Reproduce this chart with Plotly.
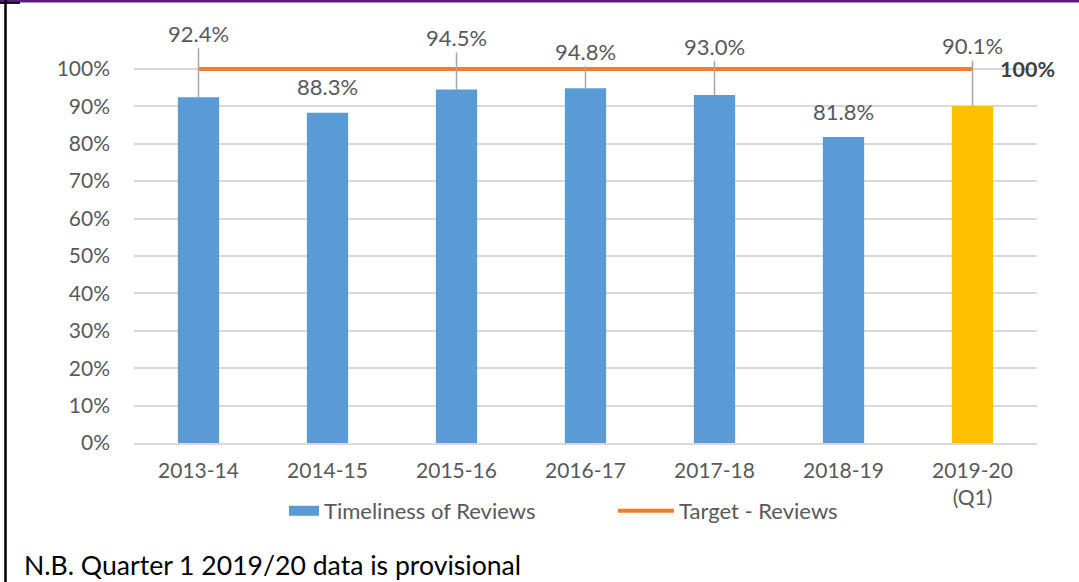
import plotly.graph_objects as go

categories = ["2013-14", "2014-15", "2015-16", "2016-17", "2017-18", "2018-19", "2019-20<br>(Q1)"]
timeliness = [0.924, 0.883, 0.945, 0.948, 0.930, 0.818, 0.901]
target = [1.0, 1.0, 1.0, 1.0, 1.0, 1.0, 1.0]
bar_colors = ["#5B9BD5", "#5B9BD5", "#5B9BD5", "#5B9BD5", "#5B9BD5", "#5B9BD5", "#FFC000"]
y_tick_vals = [0, 0.1, 0.2, 0.3, 0.4, 0.5, 0.6, 0.7, 0.8, 0.9, 1.0]
y_tick_text = ["0%", "10%", "20%", "30%", "40%", "50%", "60%", "70%", "80%", "90%", "100%"]

# label offsets above bar tops (pixels) and whether a leader line is drawn
label_offsets = [-64, -26, -52, -37, -49, -25, -60]
leader = [True, False, True, True, True, False, True]

FONT = "Lato"
GREY = "#595959"
PW, PH = 903, 374 * 1.12

fig = go.Figure()
fig.add_trace(go.Bar(
    x=categories, y=timeliness, marker=dict(color=bar_colors, line=dict(width=0)),
    width=0.32, name="Timeliness of Reviews", showlegend=False,
))
# legend proxy for bars (wide rectangle)
fig.add_trace(go.Scatter(
    x=[None], y=[None], mode="lines", line=dict(color="#5B9BD5", width=13),
    name="Timeliness of Reviews", legend="legend",
))
fig.add_trace(go.Scatter(
    x=categories, y=target, mode="lines", line=dict(color="#ED7D31", width=4),
    name="Target - Reviews", legend="legend2",
))

for c, v, off, ld in zip(categories, timeliness, label_offsets, leader):
    fig.add_annotation(
        x=c, y=v, text=f"{v*100:.1f}%", showarrow=ld, arrowhead=0, arrowwidth=1.5,
        arrowcolor="#A6A6A6", ax=0, ay=off, standoff=0,
        yshift=0 if ld else -off, font=dict(family=FONT, size=22, color=GREY),
    )

fig.add_annotation(
    x=categories[-1], y=target[-1], text="<b>100%</b>", showarrow=False,
    xanchor="left", xshift=25, font=dict(family=FONT, size=21.5, color="#404040"),
)

fig.add_annotation(
    xref="paper", yref="paper", x=(22 - 134) / PW, y=-(565 - 443) / PH, xanchor="left", yanchor="middle",
    text="N.B. Quarter 1 2019/20 data is provisional", showarrow=False,
    font=dict(family=FONT, size=26.6, color="#000000"),
)

# frame lines
fig.add_shape(type="line", xref="paper", yref="paper", x0=-140 / PW, x1=1.2, y0=(443 - 1.5) / PH, y1=(443 - 1.5) / PH,
              line=dict(color="#5B1F7A", width=2.5))
fig.add_shape(type="line", xref="paper", yref="paper", x0=-128.5 / PW, x1=-128.5 / PW, y0=-0.5, y1=1.1,
              line=dict(color="#000000", width=2.5))
fig.add_shape(type="line", xref="paper", yref="paper", x0=-140 / PW, x1=-114 / PW, y0=(443 - 3) / PH, y1=(443 - 3) / PH,
              line=dict(color="#000000", width=2))

fig.update_layout(
    width=1079, height=582,
    margin=dict(l=134, r=42, t=24, b=139, autoexpand=False),
    paper_bgcolor="white", plot_bgcolor="white",
    font=dict(family=FONT, size=21, color=GREY),
    xaxis=dict(type="category", range=[-0.5, 6.5], showgrid=False, showline=True, linecolor="#D9D9D9",
               linewidth=1.5, ticks="", tickfont=dict(family=FONT, size=21, color=GREY), ticklabelstandoff=8),
    yaxis=dict(range=[0, 1.12], tickvals=y_tick_vals, ticktext=y_tick_text, showgrid=True,
               gridcolor="#D9D9D9", gridwidth=1.5, zeroline=False, ticks="",
               tickfont=dict(family=FONT, size=21, color=GREY), ticklabelstandoff=23),
    legend=dict(orientation="h", xref="container", yref="container", x=284 / 1079, y=1 - 511 / 582,
                yanchor="middle", xanchor="left", itemwidth=30, font=dict(family=FONT, size=22, color=GREY),
                bgcolor="rgba(0,0,0,0)"),
    legend2=dict(orientation="h", xref="container", yref="container", x=613 / 1079, y=1 - 511 / 582,
                 yanchor="middle", xanchor="left", itemwidth=56, font=dict(family=FONT, size=22, color=GREY),
                 bgcolor="rgba(0,0,0,0)"),
)

fig.write_html("out.html", config={"displayModeBar": False},
               post_script="document.body.style.margin='0';")
